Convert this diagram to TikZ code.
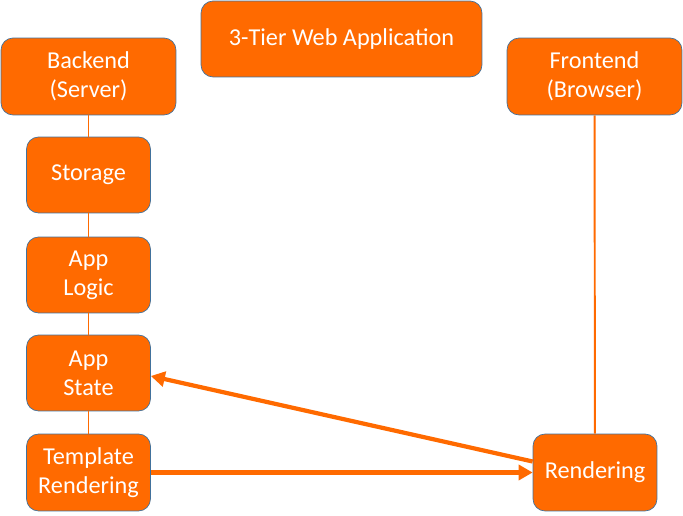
\documentclass[tikz,border=0pt]{standalone}
\usepackage{fontspec}
\setmainfont{Carlito}
\usetikzlibrary{arrows.meta}
\definecolor{tierorange}{HTML}{FF6A00}
\definecolor{tierblue}{HTML}{41719C}

\begin{document}
\begin{tikzpicture}[x=0.02cm, y=-0.02cm,
  tierbox/.style={draw=tierblue, line width=0.4pt, fill=tierorange, rounded corners=0.24cm,
    text=white, align=center, inner sep=0pt, minimum height=1.52cm,
    font=\fontsize{13.8}{16.5}\selectfont},
  widebox/.style={tierbox, minimum width=3.5cm, minimum height=1.54cm},
  smallbox/.style={tierbox, minimum width=2.48cm},
  link/.style={draw=tierorange, line width=1.1pt},
  flow/.style={draw=tierorange, line width=2.4pt, -{Triangle[length=0.28cm, width=0.3cm]}}]
\useasboundingbox (0,0) rectangle (683,516);
\path (341.5,39) node[tierbox, minimum width=5.62cm] (title) {3-Tier Web Application};
\path (88.5,76.5) node[widebox] (back) {Backend\\(Server)};
\path (594.5,76.5) node[widebox] (front) {Frontend\\(Browser)};
\path (88.5,175) node[smallbox] (stor) {Storage};
\path (88.5,275) node[smallbox] (logic) {App\\Logic};
\path (88.5,373) node[smallbox] (state) {App\\State};
\path (88.5,472.5) node[smallbox, minimum height=1.54cm] (tmpl) {Template\\Rendering};
\path (595,472.5) node[smallbox, minimum height=1.54cm] (rend) {Rendering};
\draw[link] (back) -- (stor) -- (logic) -- (state) -- (tmpl);
\draw[link] (front) -- (rend);
\draw[flow] (tmpl) -- (rend);
\draw[flow] ([yshift=0.22cm]rend.west) -- ([yshift=-0.06cm]state.east);
\end{tikzpicture}
\end{document}
